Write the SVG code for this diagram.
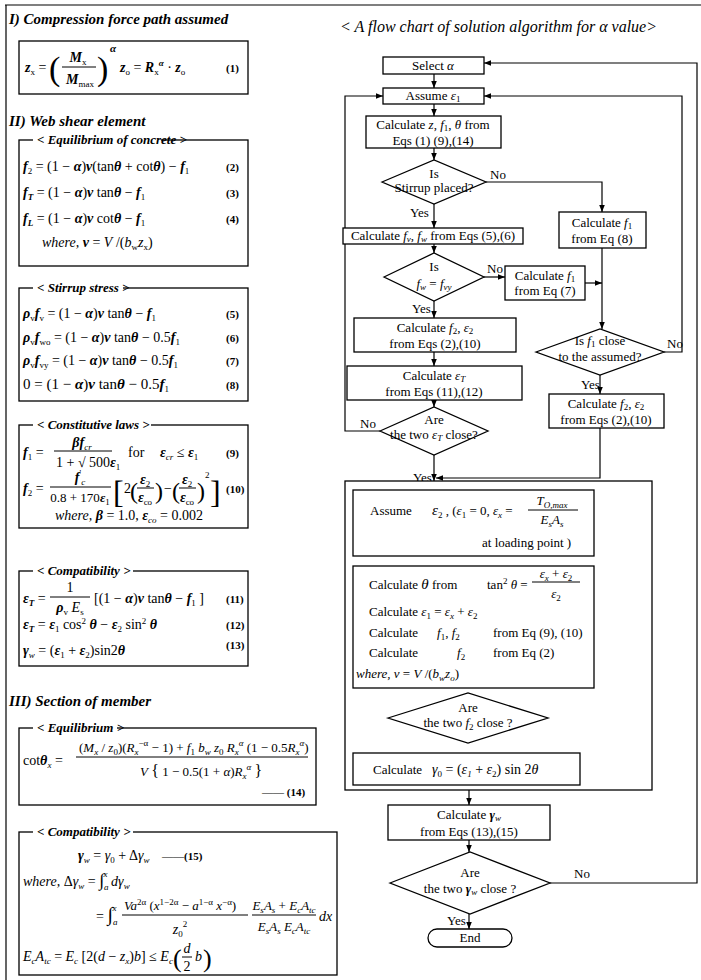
<svg xmlns="http://www.w3.org/2000/svg" width="701" height="980" viewBox="0 0 701 980">
<style>
svg{font-family:"Liberation Serif","Times New Roman",serif;font-size:13px}
text{fill:#000}
.h{font-weight:bold;font-style:italic;font-size:15px}
.lb{font-weight:bold;font-style:italic;font-size:13px}
.e{font-size:14px}
.v{font-style:italic;font-weight:bold}
.vi{font-style:italic}
.sb{font-size:9px}
.n{font-size:11px;font-weight:bold}
.box{fill:#fff;stroke:#000;stroke-width:1.3}
.ln{fill:none;stroke:#000;stroke-width:1.2}
.fr{fill:none;stroke:#000;stroke-width:1}
.wb{fill:#fff;stroke:none}
.c{text-anchor:middle}
</style>
<defs>
<marker id="ah" viewBox="0 0 10 10" refX="10" refY="5" markerWidth="6" markerHeight="6" orient="auto"><path d="M0,1 L10,5 L0,9 z" fill="#000"/></marker>
</defs>

<!-- frame -->
<path class="ln" d="M5,5 H701 M6,5 V980"/>

<!-- LEFT COLUMN -->
<g id="sec1">
<text class="h" x="9" y="24">I) Compression force path assumed</text>
<rect class="box" x="19" y="41" width="229" height="53"/>
<text class="e" x="25" y="72"><tspan class="v">z</tspan><tspan class="sb" dy="3">x</tspan><tspan dy="-3"> =</tspan></text>
<text x="49" y="80" font-size="34">(</text>
<text class="e c" x="78" y="62"><tspan class="v">M</tspan><tspan class="sb" dy="3">x</tspan></text>
<line class="fr" x1="62" y1="67" x2="96" y2="67"/>
<text class="e c" x="80" y="84"><tspan class="v">M</tspan><tspan class="sb" dy="3">max</tspan></text>
<text x="97" y="80" font-size="34">)</text>
<text class="v" x="110" y="52" font-size="11">α</text>
<text class="e" x="120" y="72"><tspan class="v">z</tspan><tspan class="sb" dy="3">o</tspan><tspan dy="-3"> = </tspan><tspan class="v">R</tspan><tspan class="sb" dy="3">x</tspan><tspan class="v sb" dy="-9">α</tspan><tspan dy="6"> · </tspan><tspan class="v">z</tspan><tspan class="sb" dy="3">o</tspan></text>
<text class="n" x="226" y="72">(1)</text>
</g>

<text class="h" x="9" y="126">II) Web shear element</text>

<g id="equil-concrete">
<rect class="box" x="19" y="140" width="229" height="126"/>
<rect class="wb" x="33" y="133" width="128" height="14"/>
<text class="lb" x="37" y="144">&lt; Equilibrium of concrete &gt;</text>
<text class="e" x="23" y="171"><tspan class="v">f</tspan><tspan class="sb" dy="3">2</tspan><tspan dy="-3"> = (1 − </tspan><tspan class="v">α</tspan>)<tspan class="v">ν</tspan>(tan<tspan class="v">θ</tspan> + cot<tspan class="v">θ</tspan>) − <tspan class="v">f</tspan><tspan class="sb" dy="3">1</tspan></text>
<text class="n" x="226" y="171">(2)</text>
<text class="e" x="23" y="197"><tspan class="v">f</tspan><tspan class="sb v" dy="3">T</tspan><tspan dy="-3"> = (1 − </tspan><tspan class="v">α</tspan>)<tspan class="v">ν</tspan> tan<tspan class="v">θ</tspan> − <tspan class="v">f</tspan><tspan class="sb" dy="3">1</tspan></text>
<text class="n" x="226" y="197">(3)</text>
<text class="e" x="23" y="223"><tspan class="v">f</tspan><tspan class="sb v" dy="3">L</tspan><tspan dy="-3"> = (1 − </tspan><tspan class="v">α</tspan>)<tspan class="v">ν</tspan> cot<tspan class="v">θ</tspan> −  <tspan class="v">f</tspan><tspan class="sb" dy="3">1</tspan></text>
<text class="n" x="226" y="223">(4)</text>
<text class="e" x="42" y="247"><tspan class="vi">where,</tspan>  <tspan class="v">ν</tspan> = <tspan class="vi">V</tspan> /(<tspan class="vi">b</tspan><tspan class="sb" dy="3">w</tspan><tspan class="vi" dy="-3">z</tspan><tspan class="sb" dy="3">x</tspan><tspan dy="-3">)</tspan></text>
</g>

<g id="stirrup">
<rect class="box" x="19" y="288" width="229" height="113"/>
<rect class="wb" x="33" y="281" width="90" height="14"/>
<text class="lb" x="37" y="292">&lt; Stirrup stress &gt;</text>
<text class="e" x="23" y="318"><tspan class="v">ρ</tspan><tspan class="sb" dy="3">v</tspan><tspan class="v" dy="-3">f</tspan><tspan class="sb" dy="3">v</tspan><tspan dy="-3"> = (1 − </tspan><tspan class="v">α</tspan>)<tspan class="v">ν</tspan> tan<tspan class="v">θ</tspan> − <tspan class="v">f</tspan><tspan class="sb" dy="3">1</tspan></text>
<text class="n" x="226" y="318">(5)</text>
<text class="e" x="23" y="342"><tspan class="v">ρ</tspan><tspan class="sb" dy="3">v</tspan><tspan class="v" dy="-3">f</tspan><tspan class="sb" dy="3">wo</tspan><tspan dy="-3"> = (1 − </tspan><tspan class="v">α</tspan>)<tspan class="v">ν</tspan> tan<tspan class="v">θ</tspan> − 0.5<tspan class="v">f</tspan><tspan class="sb" dy="3">1</tspan></text>
<text class="n" x="226" y="342">(6)</text>
<text class="e" x="23" y="365"><tspan class="v">ρ</tspan><tspan class="sb" dy="3">v</tspan><tspan class="v" dy="-3">f</tspan><tspan class="sb" dy="3">vy</tspan><tspan dy="-3"> = (1 − </tspan><tspan class="v">α</tspan>)<tspan class="v">ν</tspan> tan<tspan class="v">θ</tspan> − 0.5<tspan class="v">f</tspan><tspan class="sb" dy="3">1</tspan></text>
<text class="n" x="226" y="365">(7)</text>
<text x="23" y="389" font-size="15">0 = (1 − <tspan class="v">α</tspan>)<tspan class="v">ν</tspan> tan<tspan class="v">θ</tspan> − 0.5<tspan class="v">f</tspan><tspan class="sb" dy="3">1</tspan></text>
<text class="n" x="226" y="389">(8)</text>
</g>

<g id="constitutive">
<rect class="box" x="19" y="425" width="229" height="103"/>
<rect class="wb" x="33" y="418" width="118" height="14"/>
<text class="lb" x="37" y="429">&lt; Constitutive laws &gt;</text>
<text class="e" x="23" y="457"><tspan class="v">f</tspan><tspan class="sb" dy="3">1</tspan><tspan dy="-3"> =</tspan></text>
<text class="e c" x="82" y="447"><tspan class="v">βf</tspan><tspan class="sb vi" dy="3">cr</tspan></text>
<line class="fr" x1="54" y1="451" x2="112" y2="451"/>
<text class="e" x="56" y="467">1 + √ 500<tspan class="v">ε</tspan><tspan class="sb" dy="3">1</tspan></text>
<text class="e" x="128" y="457">for</text>
<text class="e" x="160" y="457"><tspan class="v">ε</tspan><tspan class="sb vi" dy="3">cr</tspan><tspan dy="-3"> ≤ </tspan><tspan class="v">ε</tspan><tspan class="sb" dy="3">1</tspan></text>
<text class="n" x="226" y="457">(9)</text>
<text class="e" x="23" y="493"><tspan class="v">f</tspan><tspan class="sb" dy="3">2</tspan><tspan dy="-3"> =</tspan></text>
<text class="e c" x="80" y="482"><tspan class="v">f</tspan><tspan class="sb" dy="-6">'</tspan><tspan class="sb vi" dy="9">c</tspan></text>
<line class="fr" x1="50" y1="487" x2="111" y2="487"/>
<text class="c" x="80" y="502">0.8 + 170<tspan class="v">ε</tspan><tspan class="sb" dy="3">1</tspan></text>
<text x="113" y="503" font-size="32">[</text>
<text class="e" x="124" y="493">2</text>
<text x="130" y="499" font-size="24">(</text>
<text class="e c" x="145" y="484"><tspan class="v">ε</tspan><tspan class="sb" dy="3">2</tspan></text>
<line class="fr" x1="137" y1="488" x2="154" y2="488"/>
<text class="e c" x="145" y="502"><tspan class="v">ε</tspan><tspan class="sb" dy="3">co</tspan></text>
<text x="155" y="499" font-size="24">)</text>
<text class="e" x="164" y="493">−</text>
<text x="172" y="499" font-size="24">(</text>
<text class="e c" x="187" y="484"><tspan class="v">ε</tspan><tspan class="sb" dy="3">2</tspan></text>
<line class="fr" x1="179" y1="488" x2="196" y2="488"/>
<text class="e c" x="187" y="502"><tspan class="v">ε</tspan><tspan class="sb" dy="3">co</tspan></text>
<text x="197" y="499" font-size="24">)</text>
<text class="sb" x="205" y="478">2</text>
<text x="210" y="503" font-size="32">]</text>
<text class="n" x="226" y="493">(10)</text>
<text class="e" x="55" y="520"><tspan class="vi">where,</tspan>  <tspan class="v">β</tspan> = 1.0, <tspan class="v">ε</tspan><tspan class="sb vi" dy="3">co</tspan><tspan dy="-3"> = 0.002</tspan></text>
</g>

<g id="compat1">
<rect class="box" x="19" y="571" width="229" height="95"/>
<rect class="wb" x="33" y="564" width="100" height="14"/>
<text class="lb" x="37" y="575">&lt; Compatibility &gt;</text>
<text class="e" x="23" y="603"><tspan class="v">ε</tspan><tspan class="sb v" dy="3">T</tspan><tspan dy="-3"> =</tspan></text>
<text class="e c" x="70" y="592">1</text>
<line class="fr" x1="50" y1="597" x2="90" y2="597"/>
<text class="e c" x="70" y="612"><tspan class="v">ρ</tspan><tspan class="sb" dy="3">v</tspan><tspan class="vi" dy="-3"> E</tspan><tspan class="sb" dy="3">s</tspan></text>
<text class="e" x="94" y="603">[(1 − <tspan class="v">α</tspan>)<tspan class="v">ν</tspan> tan<tspan class="v">θ</tspan> − <tspan class="v">f</tspan><tspan class="sb" dy="3">1</tspan><tspan dy="-3"> ]</tspan></text>
<text class="n" x="226" y="603">(11)</text>
<text class="e" x="23" y="629"><tspan class="v">ε</tspan><tspan class="sb v" dy="3">T</tspan><tspan dy="-3"> = </tspan><tspan class="v">ε</tspan><tspan class="sb" dy="3">1</tspan><tspan dy="-3"> cos</tspan><tspan class="sb" dy="-5">2</tspan><tspan dy="5"> </tspan><tspan class="v">θ</tspan> − <tspan class="v">ε</tspan><tspan class="sb" dy="3">2</tspan><tspan dy="-3"> sin</tspan><tspan class="sb" dy="-5">2</tspan><tspan dy="5"> </tspan><tspan class="v">θ</tspan></text>
<text class="n" x="226" y="629">(12)</text>
<text class="e" x="23" y="655"><tspan class="v">γ</tspan><tspan class="sb vi" dy="3">w</tspan><tspan dy="-3"> = (</tspan><tspan class="v">ε</tspan><tspan class="sb" dy="3">1</tspan><tspan dy="-3"> + </tspan><tspan class="v">ε</tspan><tspan class="sb" dy="3">2</tspan><tspan dy="-3">)sin2</tspan><tspan class="v">θ</tspan></text>
<text class="n" x="226" y="649">(13)</text>
</g>

<text class="h" x="9" y="706">III) Section of member</text>

<g id="equil2">
<rect class="box" x="19" y="728" width="297" height="77"/>
<rect class="wb" x="33" y="721" width="84" height="14"/>
<text class="lb" x="37" y="732">&lt; Equilibrium &gt;</text>
<text class="e" x="23" y="765">cot<tspan class="v">θ</tspan><tspan class="sb vi" dy="3">x</tspan><tspan dy="-3"> =</tspan></text>
<text x="79" y="752">(<tspan class="vi">M</tspan><tspan class="sb vi" dy="3">x</tspan><tspan dy="-3"> / </tspan><tspan class="vi">z</tspan><tspan class="sb" dy="3">0</tspan><tspan dy="-3">)(</tspan><tspan class="vi">R</tspan><tspan class="sb vi" dy="3">x</tspan><tspan class="sb" dy="-9">−α</tspan><tspan dy="6"> − 1) + </tspan><tspan class="vi">f</tspan><tspan class="sb" dy="3">1</tspan><tspan class="vi" dy="-3"> b</tspan><tspan class="sb vi" dy="3">w</tspan><tspan class="vi" dy="-3"> z</tspan><tspan class="sb" dy="3">0</tspan><tspan class="vi" dy="-3"> R</tspan><tspan class="sb vi" dy="3">x</tspan><tspan class="sb vi" dy="-9">α</tspan><tspan dy="6"> (1 − 0.5</tspan><tspan class="vi">R</tspan><tspan class="sb vi" dy="3">x</tspan><tspan class="sb vi" dy="-9">α</tspan><tspan dy="6">)</tspan></text>
<line class="fr" x1="76" y1="757" x2="308" y2="757"/>
<text x="140" y="776"><tspan class="vi">V</tspan> <tspan font-size="16">{</tspan> 1 − 0.5(1 + <tspan class="vi">α</tspan>)<tspan class="vi">R</tspan><tspan class="sb vi" dy="3">x</tspan><tspan class="sb vi" dy="-9">α</tspan><tspan dy="6"> </tspan><tspan font-size="16">}</tspan></text>
<text class="n" x="262" y="796">—— (14)</text>
</g>

<g id="compat2">
<rect class="box" x="19" y="832" width="318" height="143"/>
<rect class="wb" x="33" y="825" width="100" height="14"/>
<text class="lb" x="37" y="836">&lt; Compatibility &gt;</text>
<text class="e" x="78" y="860"><tspan class="v">γ</tspan><tspan class="sb vi" dy="3">w</tspan><tspan dy="-3"> = </tspan><tspan class="vi">γ</tspan><tspan class="sb" dy="3">0</tspan><tspan dy="-3"> + Δ</tspan><tspan class="vi">γ</tspan><tspan class="sb vi" dy="3">w</tspan></text>
<text class="n" x="162" y="860">——(15)</text>
<text class="e" x="23" y="886"><tspan class="vi">where,</tspan> Δ<tspan class="vi">γ</tspan><tspan class="sb vi" dy="3">w</tspan><tspan dy="-3"> = </tspan><tspan font-size="18">∫</tspan><tspan class="sb vi" dy="4">a</tspan><tspan class="sb vi" dx="-5" dy="-13">x</tspan><tspan dy="9"> </tspan><tspan class="vi">dγ</tspan><tspan class="sb vi" dy="3">w</tspan></text>
<text class="e" x="96" y="921">= <tspan font-size="20">∫</tspan><tspan class="sb vi" dy="4">a</tspan><tspan class="sb vi" dx="-5" dy="-14">x</tspan></text>
<text x="124" y="910"><tspan class="vi">Va</tspan><tspan class="sb" dy="-5">2α</tspan><tspan dy="5"> (</tspan><tspan class="vi">x</tspan><tspan class="sb" dy="-5">1−2α</tspan><tspan dy="5"> − </tspan><tspan class="vi">a</tspan><tspan class="sb" dy="-5">1−α</tspan><tspan dy="5"> </tspan><tspan class="vi">x</tspan><tspan class="sb" dy="-5">−α</tspan><tspan dy="5">)</tspan></text>
<line class="fr" x1="122" y1="915" x2="248" y2="915"/>
<text class="e c" x="180" y="934"><tspan class="vi">z</tspan><tspan class="sb" dy="3">0</tspan><tspan class="sb" dy="-10">2</tspan></text>
<text class="c" x="284" y="910"><tspan class="vi">E</tspan><tspan class="sb vi" dy="3">s</tspan><tspan class="vi" dy="-3">A</tspan><tspan class="sb vi" dy="3">s</tspan><tspan dy="-3"> + </tspan><tspan class="vi">E</tspan><tspan class="sb vi" dy="3">c</tspan><tspan class="vi" dy="-3">A</tspan><tspan class="sb vi" dy="3">tc</tspan></text>
<line class="fr" x1="252" y1="915" x2="316" y2="915"/>
<text class="c" x="284" y="931"><tspan class="vi">E</tspan><tspan class="sb vi" dy="3">s</tspan><tspan class="vi" dy="-3">A</tspan><tspan class="sb vi" dy="3">s</tspan><tspan class="vi" dy="-3"> E</tspan><tspan class="sb vi" dy="3">c</tspan><tspan class="vi" dy="-3">A</tspan><tspan class="sb vi" dy="3">tc</tspan></text>
<text class="e vi" x="319" y="921">dx</text>
<text class="e" x="23" y="961"><tspan class="vi">E</tspan><tspan class="sb vi" dy="3">c</tspan><tspan class="vi" dy="-3">A</tspan><tspan class="sb vi" dy="3">tc</tspan><tspan dy="-3"> = </tspan><tspan class="vi">E</tspan><tspan class="sb vi" dy="3">c</tspan><tspan dy="-3"> [2(</tspan><tspan class="vi">d</tspan> − <tspan class="vi">z</tspan><tspan class="sb vi" dy="3">x</tspan><tspan dy="-3">)</tspan><tspan class="vi">b</tspan>] ≤ <tspan class="vi">E</tspan><tspan class="sb vi" dy="3">c</tspan></text>
<text x="173" y="967" font-size="26">(</text>
<text class="e vi c" x="187" y="953">d</text>
<line class="fr" x1="182" y1="957" x2="192" y2="957"/>
<text class="e c" x="187" y="971">2</text>
<text class="e vi" x="195" y="961">b</text>
<text x="203" y="967" font-size="26">)</text>
</g>

<!-- RIGHT: FLOW CHART -->
<text class="vi" x="340" y="32" font-size="16">&lt; A flow chart of solution algorithm for  α  value&gt;</text>

<g id="connectors">
<path class="ln" d="M434,74 V88" marker-end="url(#ah)"/>
<path class="ln" d="M434,104 V116" marker-end="url(#ah)"/>
<path class="ln" d="M434,148 V160" marker-end="url(#ah)"/>
<path class="ln" d="M434,204 V228" marker-end="url(#ah)"/>
<path class="ln" d="M486,182 H602 V212" marker-end="url(#ah)"/>
<path class="ln" d="M434,244 V253" marker-end="url(#ah)"/>
<path class="ln" d="M484,277 H505" marker-end="url(#ah)"/>
<path class="ln" d="M434,301 V318" marker-end="url(#ah)"/>
<path class="ln" d="M434,352 V366" marker-end="url(#ah)"/>
<path class="ln" d="M434,400 V407" marker-end="url(#ah)"/>
<path class="ln" d="M380,431 H345 V96 H383" marker-end="url(#ah)"/>
<path class="ln" d="M434,455 V481" marker-end="url(#ah)"/>
<path class="ln" d="M602,248 V329" marker-end="url(#ah)"/>
<path class="ln" d="M585,283 H602" marker-end="url(#ah)"/>
<path class="ln" d="M664,352 H682 V96 H484" marker-end="url(#ah)"/>
<path class="ln" d="M600,375 V394" marker-end="url(#ah)"/>
<path class="ln" d="M600,428 V478 H436" marker-end="url(#ah)"/>
<path class="ln" d="M548,718 H630 V525 H594" marker-end="url(#ah)"/>
<path class="ln" d="M469,688 V693" marker-end="url(#ah)"/>
<path class="ln" d="M469,743 V753" marker-end="url(#ah)"/>
<path class="ln" d="M469,790 V805" marker-end="url(#ah)"/>
<path class="ln" d="M469,840 V852" marker-end="url(#ah)"/>
<path class="ln" d="M550,883 H697 V63 H484" marker-end="url(#ah)"/>
<path class="ln" d="M469,914 V929" marker-end="url(#ah)"/>
</g>

<g id="labels">
<text x="490" y="179">No</text>
<text x="410" y="217">Yes</text>
<text x="487" y="273">No</text>
<text x="412" y="313">Yes</text>
<text x="360" y="428">No</text>
<text x="413" y="482">Yes</text>
<text x="667" y="348">No</text>
<text x="581" y="389">Yes</text>
<text x="572" y="714">No</text>
<text x="447" y="752">Yes</text>
<text x="574" y="878">No</text>
<text x="447" y="925">Yes</text>
</g>

<g id="select-alpha">
<rect class="box" x="383" y="57" width="101" height="17"/>
<text class="c" x="433" y="70">Select  <tspan class="vi">α</tspan></text>
</g>
<g id="assume-e1">
<rect class="box" x="383" y="88" width="101" height="16"/>
<text class="c" x="433" y="100">Assume  <tspan class="vi">ε</tspan><tspan class="sb" dy="2">1</tspan></text>
</g>
<g id="calc-z">
<rect class="box" x="366" y="116" width="135" height="32"/>
<text class="c" x="433" y="129">Calculate <tspan class="vi">z</tspan>, <tspan class="vi">f</tspan><tspan class="sb" dy="2">1</tspan><tspan dy="-2">, </tspan><tspan class="vi">θ</tspan> from</text>
<text class="c" x="433" y="145">Eqs    (1) (9),(14)</text>
</g>
<g id="d-stirrup">
<polygon class="box" points="382,182 434,160 486,182 434,204"/>
<text class="c" x="434" y="178">Is</text>
<text class="c" x="434" y="192">Stirrup placed?</text>
</g>
<g id="calc-fv">
<rect class="box" x="343" y="228" width="180" height="16"/>
<text class="c" x="433" y="240">Calculate <tspan class="vi">f</tspan><tspan class="sb vi" dy="2">v</tspan><tspan dy="-2">, </tspan><tspan class="vi">f</tspan><tspan class="sb vi" dy="2">w</tspan><tspan dy="-2"> from Eqs  (5),(6)</tspan></text>
</g>
<g id="calc-f1-8">
<rect class="box" x="559" y="212" width="87" height="36"/>
<text class="c" x="602" y="227">Calculate <tspan class="vi">f</tspan><tspan class="sb" dy="2">1</tspan></text>
<text class="c" x="602" y="243">from Eq  (8)</text>
</g>
<g id="d-fw">
<polygon class="box" points="384,277 434,253 484,277 434,301"/>
<text class="c" x="434" y="271">Is</text>
<text class="c" x="434" y="288"><tspan class="vi">f</tspan><tspan class="sb vi" dy="2">w</tspan><tspan dy="-2"> = </tspan><tspan class="vi">f</tspan><tspan class="sb vi" dy="2">vy</tspan></text>
</g>
<g id="calc-f1-7">
<rect class="box" x="505" y="266" width="80" height="34"/>
<text class="c" x="545" y="280">Calculate <tspan class="vi">f</tspan><tspan class="sb" dy="2">1</tspan></text>
<text class="c" x="545" y="295">from Eq  (7)</text>
</g>
<g id="d-f1close">
<polygon class="box" points="536,352 600,329 664,352 600,375"/>
<text class="c" x="600" y="345">Is <tspan class="vi">f</tspan><tspan class="sb" dy="2">1</tspan><tspan dy="-2"> close</tspan></text>
<text class="c" x="600" y="361">to the assumed?</text>
</g>
<g id="calc-f2-right">
<rect class="box" x="549" y="394" width="115" height="34"/>
<text class="c" x="606" y="408">Calculate <tspan class="vi">f</tspan><tspan class="sb" dy="2">2</tspan><tspan dy="-2">, </tspan><tspan class="vi">ε</tspan><tspan class="sb" dy="2">2</tspan></text>
<text class="c" x="606" y="424">from Eqs   (2),(10)</text>
</g>
<g id="calc-f2-left">
<rect class="box" x="354" y="318" width="162" height="34"/>
<text class="c" x="435" y="332">Calculate  <tspan class="vi">f</tspan><tspan class="sb" dy="2">2</tspan><tspan dy="-2">, </tspan><tspan class="vi">ε</tspan><tspan class="sb" dy="2">2</tspan></text>
<text class="c" x="435" y="348">from Eqs   (2),(10)</text>
</g>
<g id="calc-eT">
<rect class="box" x="347" y="366" width="175" height="34"/>
<text class="c" x="434" y="380">Calculate  <tspan class="vi">ε</tspan><tspan class="sb vi" dy="2">T</tspan></text>
<text class="c" x="434" y="396">from Eqs   (11),(12)</text>
</g>
<g id="d-eT">
<polygon class="box" points="380,431 434,407 488,431 434,455"/>
<text class="c" x="434" y="424">Are</text>
<text class="c" x="434" y="439">the two <tspan class="vi">ε</tspan><tspan class="sb vi" dy="2">T</tspan><tspan dy="-2"> close?</tspan></text>
</g>

<g id="big-loop">
<rect class="box" x="345" y="481" width="307" height="309"/>
</g>
<g id="assume-e2">
<rect class="box" x="353" y="490" width="241" height="66"/>
<text x="370" y="515">Assume</text>
<text x="432" y="515"><tspan class="vi" font-size="15">ε</tspan><tspan class="sb" dy="3">2</tspan><tspan dy="-3"> ,   (</tspan><tspan class="vi">ε</tspan><tspan class="sb" dy="3">1</tspan><tspan dy="-3"> = 0,  </tspan><tspan class="vi">ε</tspan><tspan class="sb vi" dy="3">x</tspan><tspan dy="-3"> =</tspan></text>
<text class="c" x="552" y="505"><tspan class="vi">T</tspan><tspan class="sb vi" dy="3">O,max</tspan></text>
<line class="fr" x1="528" y1="510" x2="578" y2="510"/>
<text class="c" x="552" y="524"><tspan class="vi">E</tspan><tspan class="sb vi" dy="3">s</tspan><tspan class="vi" dy="-3">A</tspan><tspan class="sb vi" dy="3">s</tspan></text>
<text x="482" y="547">at loading point    )</text>
</g>
<g id="calc-theta">
<rect class="box" x="353" y="566" width="241" height="122"/>
<text x="369" y="589">Calculate   <tspan class="vi" font-size="15">θ</tspan>   from</text>
<text x="487" y="589">tan<tspan class="sb" dy="-5">2</tspan><tspan dy="5"> </tspan><tspan class="vi">θ</tspan> =</text>
<text class="c" x="556" y="578"><tspan class="vi">ε</tspan><tspan class="sb vi" dy="3">x</tspan><tspan dy="-3"> + </tspan><tspan class="vi">ε</tspan><tspan class="sb" dy="3">2</tspan></text>
<line class="fr" x1="532" y1="582" x2="580" y2="582"/>
<text class="c" x="556" y="598"><tspan class="vi">ε</tspan><tspan class="sb" dy="3">2</tspan></text>
<text x="369" y="616">Calculate     <tspan class="vi">ε</tspan><tspan class="sb" dy="3">1</tspan><tspan dy="-3"> = </tspan><tspan class="vi">ε</tspan><tspan class="sb vi" dy="3">x</tspan><tspan dy="-3"> + </tspan><tspan class="vi">ε</tspan><tspan class="sb" dy="3">2</tspan></text>
<text x="369" y="637">Calculate</text>
<text x="437" y="637"><tspan class="vi">f</tspan><tspan class="sb" dy="3">1</tspan><tspan dy="-3">, </tspan><tspan class="vi">f</tspan><tspan class="sb" dy="3">2</tspan></text>
<text x="493" y="637">from Eq (9), (10)</text>
<text x="369" y="657">Calculate</text>
<text x="457" y="657"><tspan class="vi">f</tspan><tspan class="sb" dy="3">2</tspan></text>
<text x="493" y="657">from Eq (2)</text>
<text x="356" y="678"><tspan class="vi">where,</tspan>  <tspan class="vi">ν</tspan> = <tspan class="vi">V</tspan> /(<tspan class="vi">b</tspan><tspan class="sb vi" dy="3">w</tspan><tspan class="vi" dy="-3">z</tspan><tspan class="sb vi" dy="3">o</tspan><tspan dy="-3">)</tspan></text>
</g>
<g id="d-f2">
<polygon class="box" points="388,718 468,693 548,718 468,743"/>
<text class="c" x="468" y="712">Are</text>
<text class="c" x="468" y="727">the two  <tspan class="vi">f</tspan><tspan class="sb" dy="3">2</tspan><tspan dy="-3">  close ?</tspan></text>
</g>
<g id="calc-g0">
<rect class="box" x="353" y="753" width="227" height="32"/>
<text x="373" y="774">Calculate</text>
<text x="432" y="774" font-size="14"><tspan class="vi">γ</tspan><tspan class="sb" dy="3">0</tspan><tspan dy="-3"> = (</tspan><tspan class="vi">ε</tspan><tspan class="sb vi" dy="3">1</tspan><tspan dy="-3"> + </tspan><tspan class="vi">ε</tspan><tspan class="sb" dy="3">2</tspan><tspan dy="-3">) sin 2</tspan><tspan class="vi">θ</tspan></text>
</g>
<g id="calc-gw">
<rect class="box" x="388" y="805" width="162" height="35"/>
<text class="c" x="469" y="819">Calculate  <tspan class="v">γ</tspan><tspan class="sb vi" dy="2">w</tspan></text>
<text class="c" x="469" y="836">from Eqs   (13),(15)</text>
</g>
<g id="d-gw">
<polygon class="box" points="390,883 470,852 550,883 470,914"/>
<text class="c" x="470" y="877">Are</text>
<text class="c" x="470" y="893">the two  <tspan class="v">γ</tspan><tspan class="sb vi" dy="2">w</tspan><tspan dy="-2"> close ?</tspan></text>
</g>
<g id="end">
<rect class="box" x="428" y="929" width="84" height="18" rx="9"/>
<text class="c" x="470" y="942">End</text>
</g>
</svg>
